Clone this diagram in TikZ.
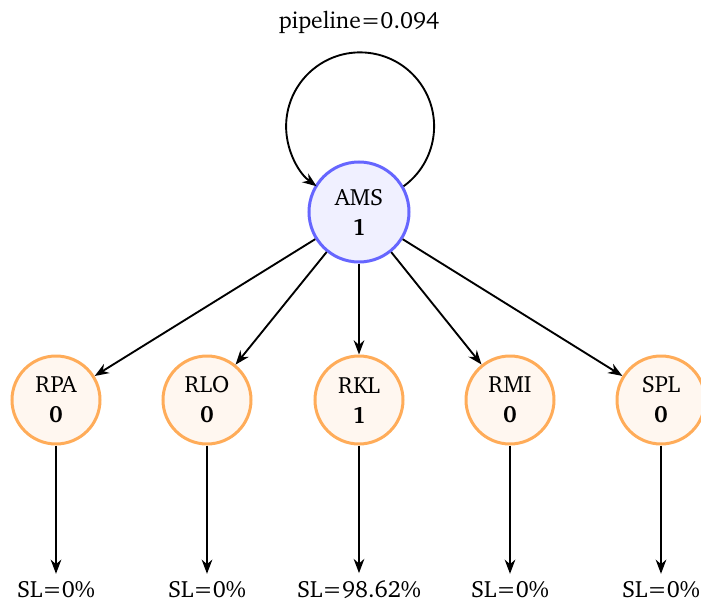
\documentclass[tikz,border=0pt]{standalone}
\usepackage[T1]{fontenc}
\usepackage{charter}
\usepackage{tikz}
\usetikzlibrary{arrows.meta,positioning}
\tikzset{
  every node/.style={font=\fontsize{9.4}{12}\selectfont},
  hub/.style={draw=blue!60, fill=blue!6, circle, line width=1.2pt, minimum size=40pt, inner sep=0pt, align=center},
  leaf/.style={draw=orange!65, fill=orange!6, circle, line width=1.2pt, minimum size=35.2pt, inner sep=0pt, align=center},
  sllabel/.style={inner sep=3pt, align=center},
  arrow/.style={-{Stealth[length=2mm]}, line width=0.75pt}
}

\begin{document}
\begin{tikzpicture}[x=0.4pt, y=0.4pt]
  \useasboundingbox (0,0) rectangle (701,602);
  \node[hub] (ams) at (359,390) {AMS\\\textbf{1}};
  \node (pipe) at (359,580) {pipeline=0.094};
  \node[leaf] (rpa) at (56,202) {RPA\\\textbf{0}};
  \node[leaf] (rlo) at (207,202) {RLO\\\textbf{0}};
  \node[leaf] (rkl) at (359,202) {RKL\\\textbf{1}};
  \node[leaf] (rmi) at (510,202) {RMI\\\textbf{0}};
  \node[leaf] (spl) at (661,202) {SPL\\\textbf{0}};
  \node[sllabel] (slrpa) at (56,12) {SL=0\%};
  \node[sllabel] (slrlo) at (207,12) {SL=0\%};
  \node[sllabel] (slrkl) at (359,12) {SL=98.62\%};
  \node[sllabel] (slrmi) at (510,12) {SL=0\%};
  \node[sllabel] (slspl) at (661,12) {SL=0\%};
  % self loop
  \draw[arrow] (ams.30) arc[start angle=-54, end angle=234, radius=74];
  \draw[arrow] (ams) -- (rpa);
  \draw[arrow] (ams) -- (rlo);
  \draw[arrow] (ams) -- (rkl);
  \draw[arrow] (ams) -- (rmi);
  \draw[arrow] (ams) -- (spl);
  \draw[arrow] (rpa) -- (slrpa);
  \draw[arrow] (rlo) -- (slrlo);
  \draw[arrow] (rkl) -- (slrkl);
  \draw[arrow] (rmi) -- (slrmi);
  \draw[arrow] (spl) -- (slspl);
\end{tikzpicture}
\end{document}
